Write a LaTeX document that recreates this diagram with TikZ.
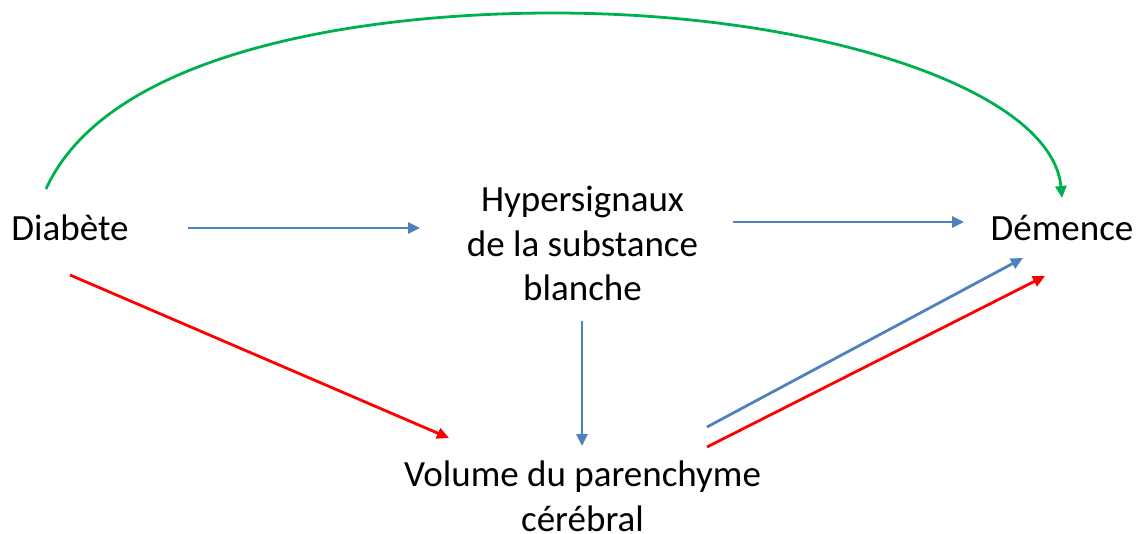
\documentclass[tikz,border=0pt]{standalone}
\usepackage{fontspec}
\setmainfont{Carlito}
\usetikzlibrary{arrows.meta}
\definecolor{obl}{HTML}{4F81BD}
\definecolor{ored}{HTML}{FF0000}
\definecolor{ogr}{HTML}{00B050}
\begin{document}
\begin{tikzpicture}[x=1pt,y=-1pt,
  lbl/.style={inner sep=0pt,anchor=base,font=\fontsize{37}{44.5}\selectfont},
  conn/.style={line width=2.8pt,-{Triangle[length=12pt,width=11pt]}},
  bl/.style={conn,draw=obl},
  rd/.style={conn,draw=ored},
  gr/.style={conn,draw=ogr}]
\useasboundingbox (0,0) rectangle (1142,533);
\node[lbl] (diab) at (70,240) {Diabète};
\node[lbl] (dem) at (1062,240) {Démence};
\node[lbl] (hyp) at (582.5,211.5) {\setlength{\tabcolsep}{0pt}\begin{tabular}[t]{c}Hypersignaux\\de la substance\\blanche\end{tabular}};
\node[lbl] (vol) at (582.5,486.5) {\setlength{\tabcolsep}{0pt}\begin{tabular}[t]{c}Volume du parenchyme\\cérébral\end{tabular}};
% connector end points
\coordinate (d1) at (188,228);
\coordinate (h1) at (420,228);
\coordinate (h2) at (733,222);
\coordinate (m1) at (964,222);
\coordinate (h3) at (582,321);
\coordinate (v1) at (582,446);
\coordinate (d2) at (70,275);
\coordinate (v2) at (449,438);
\coordinate (v3) at (707,427);
\coordinate (m2) at (1023,258);
\coordinate (v4) at (707,447);
\coordinate (m3) at (1045,276);
\coordinate (d3) at (46,189);
\coordinate (top) at (553,13);
\coordinate (m4) at (1062,198);
\draw[bl] (d1) -- (h1);
\draw[bl] (h2) -- (m1);
\draw[bl] (h3) -- (v1);
\draw[rd] (d2) -- (v2);
\draw[bl] (v3) -- (m2);
\draw[rd] (v4) -- (m3);
\draw[gr] (d3) .. controls (108,52) and (360,13) .. (top)
  .. controls (820,13) and (1052,90) .. (m4);
\end{tikzpicture}
\end{document}
